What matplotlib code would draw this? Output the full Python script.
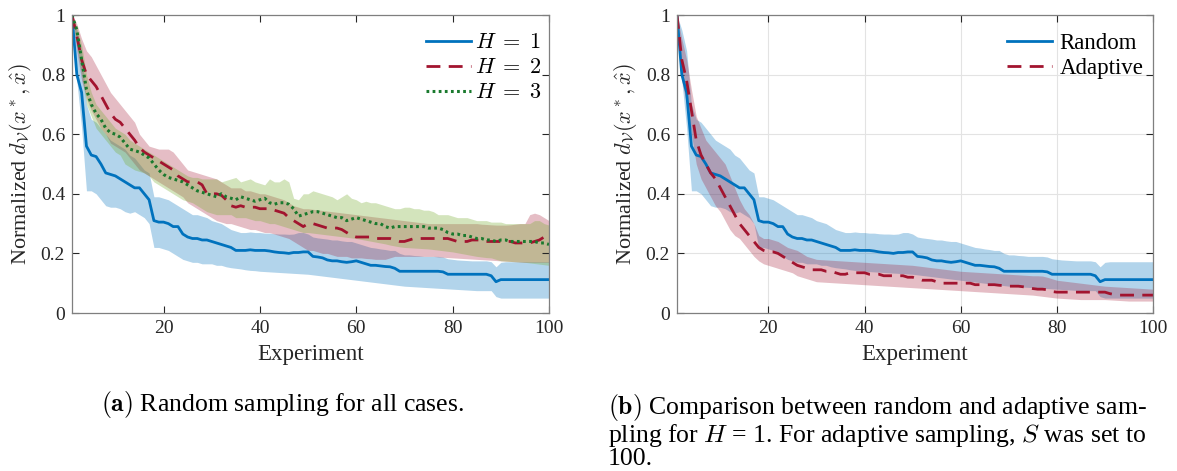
import numpy as np
import matplotlib
matplotlib.use('Agg')
import matplotlib.pyplot as plt

plt.rcParams['font.family'] = ['Liberation Serif', 'DejaVu Serif']
plt.rcParams['mathtext.fontset'] = 'cm'

# experiment index 1..100
experiment = np.arange(1, 101)

# H = 1 (also "Random" in panel b)
h1_mean = [1.00, 0.80, 0.74, 0.56, 0.53, 0.525, 0.50, 0.47, 0.465, 0.46,
           0.45, 0.44, 0.43, 0.42, 0.42, 0.40, 0.38, 0.31, 0.305, 0.305,
           0.30, 0.29, 0.29, 0.265, 0.255, 0.25, 0.25, 0.245, 0.245, 0.24,
           0.235, 0.23, 0.225, 0.22, 0.21, 0.21, 0.21, 0.212, 0.21, 0.21,
           0.21, 0.208, 0.205, 0.203, 0.202, 0.20, 0.203, 0.203, 0.205, 0.205,
           0.19, 0.188, 0.185, 0.178, 0.175, 0.175, 0.172, 0.17, 0.172, 0.175,
           0.17, 0.165, 0.16, 0.16, 0.158, 0.156, 0.155, 0.15, 0.14, 0.14,
           0.14, 0.14, 0.14, 0.14, 0.14, 0.14, 0.14, 0.138, 0.13, 0.13,
           0.13, 0.13, 0.13, 0.13, 0.13, 0.13, 0.13, 0.125, 0.105, 0.112,
           0.112, 0.112, 0.112, 0.112, 0.112, 0.112, 0.112, 0.112, 0.112, 0.112]
h1_lo = [1.00, 0.78, 0.62, 0.41, 0.41, 0.40, 0.38, 0.36, 0.355, 0.355,
         0.35, 0.34, 0.335, 0.34, 0.33, 0.32, 0.30, 0.22, 0.22, 0.215,
         0.21, 0.20, 0.19, 0.18, 0.175, 0.17, 0.17, 0.165, 0.165, 0.165,
         0.16, 0.16, 0.155, 0.152, 0.15, 0.148, 0.145, 0.143, 0.142, 0.14,
         0.139, 0.138, 0.137, 0.136, 0.135, 0.134, 0.133, 0.132, 0.131, 0.13,
         0.128, 0.126, 0.124, 0.122, 0.12, 0.118, 0.116, 0.114, 0.112, 0.11,
         0.108, 0.106, 0.104, 0.102, 0.10, 0.098, 0.096, 0.094, 0.092, 0.09,
         0.089, 0.088, 0.087, 0.086, 0.085, 0.084, 0.083, 0.082, 0.081, 0.08,
         0.079, 0.078, 0.077, 0.076, 0.075, 0.075, 0.075, 0.075, 0.055, 0.05,
         0.05, 0.05, 0.05, 0.05, 0.05, 0.05, 0.05, 0.05, 0.05, 0.05]
h1_hi = [1.00, 0.95, 0.88, 0.70, 0.65, 0.64, 0.62, 0.60, 0.58, 0.57,
         0.56, 0.55, 0.53, 0.52, 0.50, 0.48, 0.47, 0.39, 0.39, 0.385,
         0.38, 0.37, 0.36, 0.35, 0.34, 0.33, 0.33, 0.325, 0.32, 0.31,
         0.305, 0.30, 0.29, 0.28, 0.275, 0.27, 0.27, 0.272, 0.27, 0.27,
         0.268, 0.268, 0.266, 0.265, 0.265, 0.264, 0.265, 0.27, 0.27, 0.265,
         0.255, 0.252, 0.25, 0.248, 0.245, 0.245, 0.242, 0.24, 0.24, 0.235,
         0.23, 0.225, 0.22, 0.218, 0.215, 0.213, 0.21, 0.21, 0.20, 0.195,
         0.195, 0.193, 0.192, 0.19, 0.19, 0.19, 0.19, 0.188, 0.182, 0.18,
         0.178, 0.177, 0.176, 0.175, 0.175, 0.175, 0.175, 0.172, 0.155, 0.17,
         0.172, 0.172, 0.172, 0.172, 0.172, 0.172, 0.172, 0.172, 0.172, 0.172]

# H = 2
h2_mean = [1.00, 0.93, 0.85, 0.80, 0.78, 0.76, 0.73, 0.70, 0.67, 0.65,
           0.64, 0.62, 0.60, 0.58, 0.555, 0.54, 0.53, 0.52, 0.51, 0.50,
           0.49, 0.48, 0.46, 0.45, 0.44, 0.44, 0.44, 0.43, 0.40, 0.40,
           0.40, 0.395, 0.38, 0.36, 0.355, 0.36, 0.355, 0.355, 0.355, 0.35,
           0.35, 0.35, 0.345, 0.34, 0.335, 0.32, 0.31, 0.30, 0.29, 0.30,
           0.30, 0.295, 0.29, 0.285, 0.285, 0.285, 0.28, 0.27, 0.26, 0.255,
           0.255, 0.255, 0.255, 0.25, 0.25, 0.25, 0.25, 0.245, 0.24, 0.24,
           0.245, 0.25, 0.25, 0.25, 0.25, 0.25, 0.25, 0.25, 0.25, 0.245,
           0.24, 0.24, 0.24, 0.245, 0.245, 0.245, 0.24, 0.24, 0.24, 0.24,
           0.24, 0.24, 0.235, 0.235, 0.235, 0.235, 0.24, 0.245, 0.255, 0.255]
h2_lo = [1.00, 0.88, 0.78, 0.72, 0.68, 0.65, 0.62, 0.60, 0.57, 0.56,
         0.55, 0.54, 0.52, 0.50, 0.48, 0.47, 0.46, 0.45, 0.44, 0.43,
         0.42, 0.41, 0.40, 0.39, 0.37, 0.36, 0.35, 0.34, 0.33, 0.32,
         0.31, 0.305, 0.30, 0.30, 0.295, 0.29, 0.285, 0.28, 0.28, 0.275,
         0.27, 0.27, 0.265, 0.26, 0.255, 0.25, 0.24, 0.23, 0.22, 0.21,
         0.21, 0.205, 0.20, 0.20, 0.195, 0.19, 0.19, 0.19, 0.185, 0.185,
         0.185, 0.183, 0.182, 0.18, 0.18, 0.18, 0.185, 0.19, 0.19, 0.19,
         0.19, 0.19, 0.19, 0.19, 0.19, 0.19, 0.188, 0.187, 0.186, 0.185,
         0.184, 0.183, 0.182, 0.181, 0.18, 0.179, 0.178, 0.177, 0.176, 0.175,
         0.174, 0.173, 0.172, 0.171, 0.17, 0.17, 0.17, 0.17, 0.17, 0.17]
h2_hi = [1.00, 0.97, 0.92, 0.88, 0.86, 0.83, 0.80, 0.77, 0.74, 0.72,
         0.70, 0.68, 0.66, 0.64, 0.60, 0.58, 0.56, 0.555, 0.55, 0.55,
         0.55, 0.54, 0.52, 0.50, 0.48, 0.475, 0.47, 0.465, 0.46, 0.455,
         0.45, 0.44, 0.43, 0.42, 0.42, 0.42, 0.41, 0.41, 0.405, 0.40,
         0.40, 0.395, 0.39, 0.385, 0.38, 0.37, 0.36, 0.355, 0.35, 0.35,
         0.348, 0.346, 0.344, 0.342, 0.34, 0.338, 0.336, 0.334, 0.332, 0.33,
         0.328, 0.326, 0.324, 0.322, 0.32, 0.318, 0.316, 0.314, 0.312, 0.31,
         0.308, 0.306, 0.304, 0.302, 0.30, 0.30, 0.30, 0.30, 0.30, 0.30,
         0.30, 0.30, 0.30, 0.30, 0.30, 0.298, 0.297, 0.296, 0.295, 0.295,
         0.295, 0.296, 0.298, 0.30, 0.30, 0.33, 0.335, 0.33, 0.32, 0.31]

# H = 3
h3_mean = [1.00, 0.95, 0.85, 0.75, 0.70, 0.67, 0.65, 0.62, 0.605, 0.60,
           0.59, 0.57, 0.55, 0.545, 0.54, 0.53, 0.52, 0.50, 0.48, 0.465,
           0.455, 0.45, 0.445, 0.44, 0.43, 0.42, 0.41, 0.405, 0.40, 0.395,
           0.39, 0.40, 0.39, 0.385, 0.38, 0.39, 0.385, 0.38, 0.375, 0.38,
           0.385, 0.37, 0.365, 0.37, 0.37, 0.365, 0.35, 0.325, 0.33, 0.335,
           0.34, 0.34, 0.335, 0.33, 0.325, 0.32, 0.32, 0.31, 0.315, 0.32,
           0.315, 0.31, 0.305, 0.30, 0.30, 0.29, 0.285, 0.29, 0.29, 0.29,
           0.29, 0.29, 0.29, 0.29, 0.285, 0.285, 0.285, 0.28, 0.27, 0.265,
           0.265, 0.26, 0.26, 0.255, 0.25, 0.25, 0.245, 0.245, 0.24, 0.245,
           0.245, 0.24, 0.24, 0.24, 0.24, 0.24, 0.24, 0.235, 0.235, 0.23]
h3_lo = [1.00, 0.90, 0.80, 0.70, 0.66, 0.62, 0.60, 0.58, 0.56, 0.54,
         0.53, 0.50, 0.49, 0.48, 0.475, 0.47, 0.46, 0.44, 0.43, 0.42,
         0.41, 0.40, 0.39, 0.38, 0.375, 0.37, 0.36, 0.35, 0.34, 0.335,
         0.33, 0.33, 0.33, 0.33, 0.32, 0.32, 0.32, 0.315, 0.31, 0.31,
         0.305, 0.30, 0.30, 0.295, 0.29, 0.285, 0.28, 0.275, 0.27, 0.27,
         0.268, 0.266, 0.264, 0.262, 0.26, 0.258, 0.256, 0.254, 0.252, 0.25,
         0.247, 0.244, 0.241, 0.238, 0.235, 0.232, 0.228, 0.225, 0.222, 0.22,
         0.219, 0.218, 0.217, 0.216, 0.215, 0.213, 0.211, 0.209, 0.207, 0.205,
         0.202, 0.199, 0.196, 0.193, 0.19, 0.188, 0.186, 0.185, 0.18, 0.175,
         0.174, 0.173, 0.172, 0.171, 0.17, 0.168, 0.166, 0.164, 0.162, 0.16]
h3_hi = [1.00, 0.96, 0.90, 0.80, 0.74, 0.70, 0.68, 0.66, 0.64, 0.62,
         0.61, 0.60, 0.58, 0.57, 0.56, 0.55, 0.54, 0.53, 0.52, 0.51,
         0.50, 0.49, 0.48, 0.47, 0.46, 0.455, 0.455, 0.45, 0.45, 0.45,
         0.45, 0.44, 0.445, 0.45, 0.455, 0.44, 0.445, 0.45, 0.44, 0.435,
         0.43, 0.45, 0.44, 0.44, 0.45, 0.44, 0.385, 0.38, 0.40, 0.40,
         0.41, 0.405, 0.40, 0.395, 0.39, 0.38, 0.39, 0.40, 0.385, 0.38,
         0.37, 0.375, 0.37, 0.37, 0.365, 0.36, 0.355, 0.35, 0.35, 0.355,
         0.355, 0.35, 0.35, 0.345, 0.345, 0.34, 0.33, 0.33, 0.33, 0.325,
         0.32, 0.32, 0.32, 0.315, 0.31, 0.31, 0.31, 0.305, 0.305, 0.305,
         0.30, 0.30, 0.30, 0.30, 0.30, 0.30, 0.31, 0.31, 0.30, 0.295]

# adaptive sampling, H = 1
ad_mean = [1.00, 0.85, 0.78, 0.68, 0.58, 0.53, 0.50, 0.47, 0.45, 0.42,
           0.39, 0.36, 0.33, 0.30, 0.28, 0.26, 0.24, 0.22, 0.21, 0.205,
           0.205, 0.20, 0.19, 0.18, 0.17, 0.16, 0.155, 0.15, 0.145, 0.145,
           0.145, 0.14, 0.14, 0.135, 0.13, 0.13, 0.135, 0.135, 0.135, 0.135,
           0.13, 0.13, 0.13, 0.125, 0.125, 0.125, 0.125, 0.125, 0.12, 0.12,
           0.115, 0.11, 0.11, 0.11, 0.105, 0.10, 0.10, 0.10, 0.10, 0.10,
           0.10, 0.10, 0.095, 0.095, 0.095, 0.095, 0.095, 0.093, 0.092, 0.09,
           0.09, 0.09, 0.088, 0.085, 0.082, 0.08, 0.08, 0.078, 0.072, 0.07,
           0.07, 0.07, 0.07, 0.07, 0.07, 0.07, 0.07, 0.07, 0.07, 0.07,
           0.065, 0.062, 0.06, 0.06, 0.06, 0.06, 0.06, 0.06, 0.06, 0.06]
ad_lo = [1.00, 0.78, 0.70, 0.60, 0.50, 0.45, 0.42, 0.39, 0.36, 0.34,
         0.31, 0.28, 0.26, 0.25, 0.23, 0.21, 0.19, 0.175, 0.165, 0.16,
         0.155, 0.15, 0.145, 0.14, 0.135, 0.125, 0.12, 0.115, 0.11, 0.105,
         0.104, 0.103, 0.102, 0.101, 0.10, 0.099, 0.098, 0.097, 0.096, 0.095,
         0.094, 0.093, 0.092, 0.091, 0.09, 0.089, 0.088, 0.087, 0.086, 0.085,
         0.084, 0.083, 0.082, 0.081, 0.08, 0.079, 0.078, 0.077, 0.076, 0.075,
         0.074, 0.073, 0.072, 0.071, 0.07, 0.069, 0.068, 0.067, 0.066, 0.065,
         0.064, 0.063, 0.062, 0.061, 0.06, 0.058, 0.056, 0.054, 0.052, 0.05,
         0.049, 0.048, 0.047, 0.046, 0.045, 0.045, 0.045, 0.045, 0.045, 0.045,
         0.044, 0.043, 0.042, 0.041, 0.04, 0.04, 0.04, 0.04, 0.04, 0.04]
ad_hi = [1.00, 0.92, 0.85, 0.75, 0.66, 0.62, 0.58, 0.56, 0.54, 0.52,
         0.50, 0.46, 0.42, 0.38, 0.35, 0.33, 0.30, 0.26, 0.25, 0.25,
         0.245, 0.24, 0.23, 0.22, 0.215, 0.21, 0.20, 0.19, 0.185, 0.18,
         0.179, 0.178, 0.177, 0.176, 0.175, 0.174, 0.173, 0.172, 0.171, 0.17,
         0.169, 0.168, 0.167, 0.166, 0.165, 0.164, 0.163, 0.162, 0.161, 0.16,
         0.158, 0.156, 0.154, 0.152, 0.15, 0.148, 0.146, 0.144, 0.142, 0.14,
         0.139, 0.138, 0.137, 0.136, 0.135, 0.134, 0.133, 0.132, 0.131, 0.13,
         0.129, 0.128, 0.127, 0.126, 0.125, 0.125, 0.124, 0.12, 0.115, 0.11,
         0.108, 0.106, 0.104, 0.102, 0.10, 0.098, 0.096, 0.094, 0.092, 0.09,
         0.089, 0.088, 0.087, 0.086, 0.085, 0.084, 0.083, 0.082, 0.081, 0.08]

BLUE = '#0072BD'
RED = '#A2142F'
GREEN = '#1A7A2E'
GREEN_BAND = '#77AC30'

xticks = [20, 40, 60, 80, 100]
yticks = [0, 0.2, 0.4, 0.6, 0.8, 1]
ytick_labels = ['0', '0.2', '0.4', '0.6', '0.8', '1']
ylabel = r'Normalized $d_{\mathcal{V}}(x^*,\hat{x})$'

fig = plt.figure(figsize=(11.77, 4.71), dpi=100)
ax1 = fig.add_axes([72 / 1177, 158 / 471, 477 / 1177, 298 / 471])
ax2 = fig.add_axes([677 / 1177, 158 / 471, 476 / 1177, 298 / 471])


def style_axes(ax, grid):
    ax.set_xlim(1, 100)
    ax.set_ylim(0, 1)
    ax.set_xticks(xticks)
    ax.set_yticks(yticks)
    ax.set_yticklabels(ytick_labels)
    ax.tick_params(direction='in', top=True, right=True, length=5,
                   width=0.8, color='#262626', labelsize=14,
                   labelcolor='#262626', pad=5)
    for s in ax.spines.values():
        s.set_color('#7f7f7f')
        s.set_linewidth(0.9)
    if grid:
        ax.grid(True, color='#e3e3e3', lw=0.8)
        ax.set_axisbelow(True)
    ax.set_xlabel('Experiment', fontsize=16.5, color='#262626', labelpad=5)
    ax.set_ylabel(ylabel, fontsize=16, color='#262626', labelpad=5)


# panel (a)
ax1.fill_between(experiment, h1_lo, h1_hi, color=BLUE, alpha=0.3, lw=0)
ax1.fill_between(experiment, h2_lo, h2_hi, color=RED, alpha=0.28, lw=0)
ax1.fill_between(experiment, h3_lo, h3_hi, color=GREEN_BAND, alpha=0.32, lw=0)
ax1.plot(experiment, h1_mean, color=BLUE, lw=2.0, label=r'$H\;=\;1$')
ax1.plot(experiment, h2_mean, color=RED, lw=2.0, ls=(0, (5, 3)), label=r'$H\;=\;2$')
ax1.plot(experiment, h3_mean, color=GREEN, lw=2.2, ls=(0, (0.9, 1.1)), label=r'$H\;=\;3$')
style_axes(ax1, grid=False)
ax1.legend(loc='upper right', frameon=False, fontsize=16, handlelength=2.0,
           handletextpad=0.2, labelspacing=0.2, borderaxespad=0.4,
           bbox_to_anchor=(1.022, 1.0))

# panel (b)
ax2.fill_between(experiment, h1_lo, h1_hi, color=BLUE, alpha=0.3, lw=0)
ax2.fill_between(experiment, ad_lo, ad_hi, color=RED, alpha=0.28, lw=0)
ax2.plot(experiment, h1_mean, color=BLUE, lw=2.0, label='Random')
ax2.plot(experiment, ad_mean, color=RED, lw=2.0, ls=(0, (5, 3)), label='Adaptive')
style_axes(ax2, grid=True)
ax2.legend(loc='upper right', frameon=False, fontsize=16.5, handlelength=2.0,
           handletextpad=0.3, labelspacing=0.15, borderaxespad=0.4,
           bbox_to_anchor=(1.018, 1.0))

# captions
fig.text(283 / 1177, 1 - 405 / 471, r'$\mathbf{(a)}$ Random sampling for all cases.',
         ha='center', va='center', fontsize=18.5)
cap_b = '\n'.join([r'$\mathbf{(b)}$ Comparison between random and adaptive sam-',
                   r'pling for $H$ = 1. For adaptive sampling, $S$ was set to',
                   '100.'])
fig.text(608 / 1177, 1 - 392 / 471, cap_b, ha='left', va='top',
         fontsize=18.5, linespacing=0.95)

fig.savefig('out.png', dpi=100)
